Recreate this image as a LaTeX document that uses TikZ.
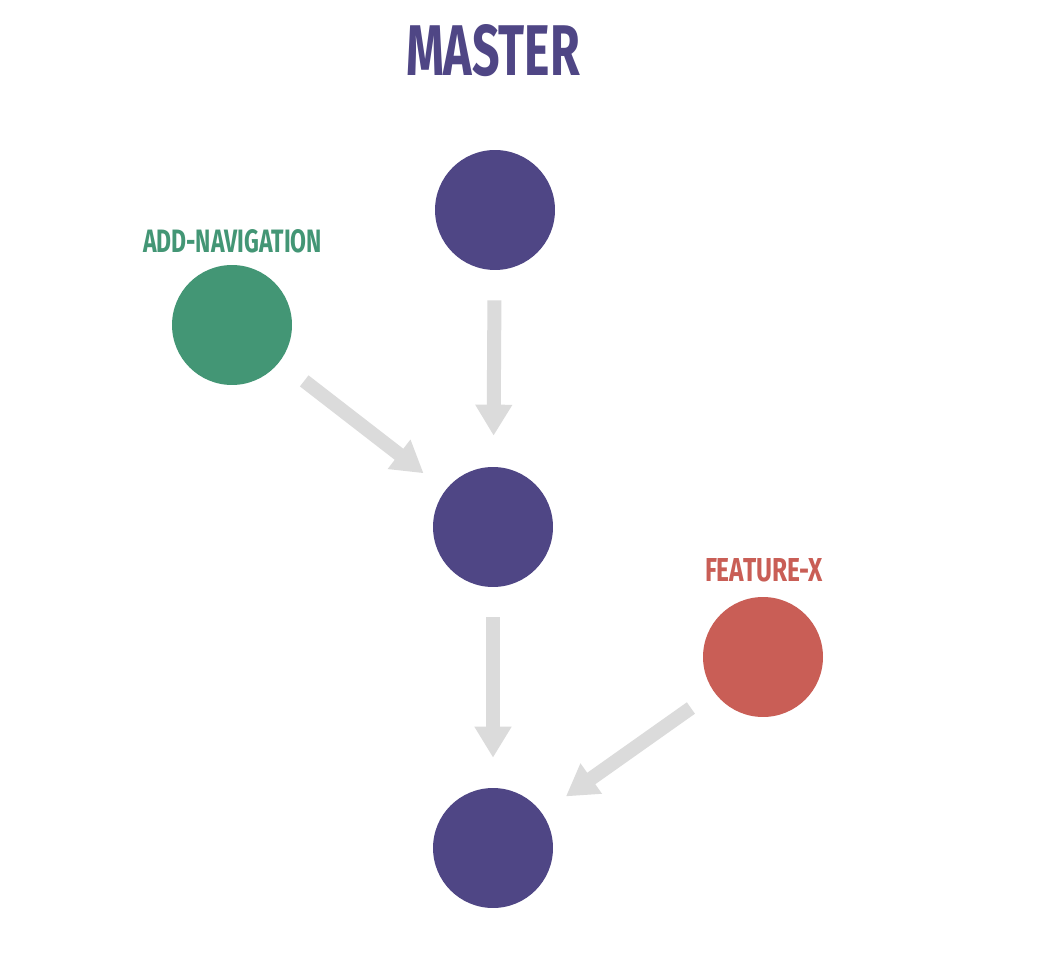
\documentclass[tikz,border=0pt]{standalone}
\usepackage{fontspec}
\setmainfont{Fira Sans}
\usetikzlibrary{arrows.meta}
\definecolor{mpurple}{RGB}{79,70,133}
\definecolor{mgreen}{RGB}{67,150,117}
\definecolor{mred}{RGB}{201,94,86}
\definecolor{agray}{RGB}{219,219,219}
\tikzset{
  commit/.style={circle, minimum size=2.4cm, inner sep=0pt, draw=none},
  lbl/.style={inner sep=0pt, font=\bfseries},
  flow/.style={draw=agray, line width=0.28cm,
    -{Triangle[length=0.62cm, width=0.7cm]}},
}
\begin{document}
\begin{tikzpicture}[x=0.02cm, y=-0.02cm]
\useasboundingbox (0,0) rectangle (1040,972);
\fill[white] (0,0) rectangle (1040,972);
% labels
\node[lbl, text=mpurple] (tmaster) at (493,50.5) {\resizebox{3.48cm}{1.02cm}{MASTER}};
\node[lbl, text=mgreen] (tnav) at (232.5,241.5) {\resizebox{3.58cm}{0.46cm}{ADD-NAVIGATION}};
\node[lbl, text=mred] (tfeat) at (764,570.5) {\resizebox{2.36cm}{0.46cm}{FEATURE-X}};
% commits
\node[commit, fill=mpurple] (m1) at (495,210) {};
\node[commit, fill=mpurple] (m2) at (493,527) {};
\node[commit, fill=mpurple] (m3) at (493,848) {};
\node[commit, fill=mgreen] (g) at (232,325) {};
\node[commit, fill=mred] (r) at (763,657) {};
% connectors
\draw[flow, shorten <=0.6cm, shorten >=0.62cm] (m1) -- (m2);
\draw[flow, shorten <=0.6cm, shorten >=0.6cm] (m2) -- (m3);
\draw[flow, shorten <=0.62cm, shorten >=0.55cm] (g) -- (m2);
\draw[flow, shorten <=0.56cm, shorten >=0.58cm] (r) -- (m3);
\end{tikzpicture}
\end{document}
